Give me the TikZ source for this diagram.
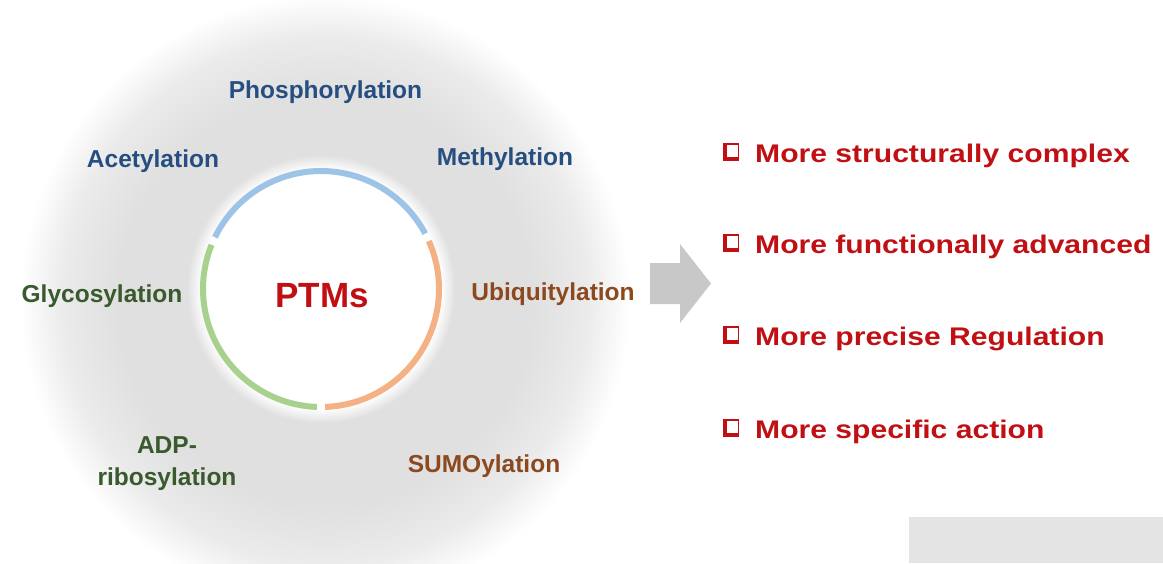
\documentclass[tikz,border=0pt]{standalone}
\usepackage{fontspec}
\setmainfont{Liberation Sans}
\newfontfamily\widesans[FakeStretch=1.18]{Liberation Sans}

\definecolor{hazegray}{RGB}{224,224,224}
\definecolor{ringblue}{RGB}{157,195,230}
\definecolor{ringorange}{RGB}{244,177,131}
\definecolor{ringgreen}{RGB}{169,209,142}
\definecolor{ptmred}{RGB}{192,16,20}
\definecolor{labelblue}{RGB}{38,78,128}
\definecolor{labelgreen}{RGB}{56,90,44}
\definecolor{labelbrown}{RGB}{140,72,30}
\definecolor{arrowgray}{RGB}{200,200,200}
\definecolor{panelgray}{RGB}{228,228,228}

% soft grey disc behind the modification ring (25bp = path radius)
\pgfdeclareradialshading{haze}{\pgfpoint{0bp}{0bp}}{%
  color(0bp)=(hazegray); color(17bp)=(hazegray);
  color(21.5bp)=(hazegray!65!white); color(25bp)=(white); color(50bp)=(white)}
% white core with a soft rim, blending into the grey disc
\pgfdeclareradialshading{halo}{\pgfpoint{0bp}{0bp}}{%
  color(0bp)=(white); color(22.3bp)=(white); color(25bp)=(hazegray); color(50bp)=(hazegray)}

\tikzset{
  mod/.style={font=\fontsize{24.5}{32}\selectfont\bfseries, inner sep=0pt},
  claim/.style={font=\widesans\fontsize{25.5}{30}\selectfont\bfseries,
    text=ptmred, inner sep=0pt, anchor=base west},
  ringarc/.style={line width=6pt, line cap=butt},
  boxline/.style={draw=ptmred, line width=1.8pt},
  boxshade/.style={fill=ptmred}
}

\newcommand\claimbox[1]{%
  \draw[boxline] ([shift={(-30.5,-4)}]#1.base west) rectangle ([shift={(-16.5,-18)}]#1.base west);
  \fill[boxshade] ([shift={(-32,-1.5)}]#1.base west) rectangle ([shift={(-15.6,-5)}]#1.base west);
  \fill[boxshade] ([shift={(-32,-1.5)}]#1.base west) rectangle ([shift={(-28.5,-18.9)}]#1.base west);
}

\begin{document}
\begin{tikzpicture}[x=1pt,y=-1pt]
  \useasboundingbox (0,0) rectangle (1163,563);
  \clip (0,0) rectangle (1163,563);

  % background haze and white core
  \shade[shading=haze] (325,300) circle[radius=305];
  \coordinate (c) at (321,289);
  \shade[shading=halo] (c) circle[radius=134];

  % coloured ring segments
  \draw[ringarc, ringblue]   ([shift={(-28:118)}]c) arc[start angle=-28, end angle=-154, radius=118];
  \draw[ringarc, ringgreen]  ([shift={(-158:118)}]c) arc[start angle=-158, end angle=-268, radius=118];
  \draw[ringarc, ringorange] ([shift={(88:118)}]c) arc[start angle=88, end angle=-24, radius=118];

  \node[font=\fontsize{35}{40}\selectfont\bfseries, text=ptmred, inner sep=0pt, anchor=base]
    (ptm) at (322,307) {PTMs};

  % modification labels
  \node[mod, text=labelblue, anchor=base] (phos) at (325.5,98) {Phosphorylation};
  \node[mod, text=labelblue, anchor=base] (acet) at (153,167) {Acetylation};
  \node[mod, text=labelblue, anchor=base] (meth) at (505,165) {Methylation};
  \node[mod, text=labelgreen, anchor=base] (glyc) at (102,302) {Glycosylation};
  \node[mod, text=labelgreen, anchor=base, align=center] (adpr) at (167,485) {ADP-\\ribosylation};
  \node[mod, text=labelbrown, anchor=base] (ubiq) at (553,300) {Ubiquitylation};
  \node[mod, text=labelbrown, anchor=base] (sumo) at (484,472) {SUMOylation};

  % block arrow
  \coordinate (a1) at (650,263);
  \coordinate (a2) at (680,263);
  \coordinate (a3) at (680,244);
  \coordinate (a4) at (711,283.5);
  \coordinate (a5) at (680,323);
  \coordinate (a6) at (680,304);
  \coordinate (a7) at (650,304);
  \fill[arrowgray] (a1) -- (a2) -- (a3) -- (a4) -- (a5) -- (a6) -- (a7) -- cycle;

  % claims
  \node[claim] (c1) at (755,162) {More structurally complex};
  \node[claim] (c2) at (755,253) {More functionally advanced};
  \node[claim] (c3) at (755,345) {More precise Regulation};
  \node[claim] (c4) at (755,438) {More specific action};
  \claimbox{c1}
  \claimbox{c2}
  \claimbox{c3}
  \claimbox{c4}

  % corner panel
  \fill[panelgray] (909,517) rectangle (1163,563);
\end{tikzpicture}
\end{document}
